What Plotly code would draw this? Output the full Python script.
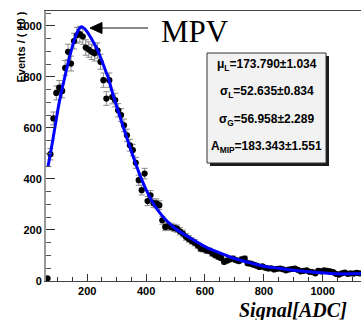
import plotly.graph_objects as go

# ---- data ----
bin_centers = list(range(65, 1130, 10))
counts = [
    10, 497, 637, 737, 758, 745, 835, 898, 852, 940,
    963, 967, 958, 915, 907, 898, 892, 903, 859, 787,
    715, 787, 721, 709, 669, 650, 610, 571, 532, 513,
    463, 395, 356, 421, 313, 336, 305, 304, 297, 238,
    212, 215, 212, 208, 205, 195, 186, 173, 165, 157,
    150, 140, 127, 125, 120, 118, 108, 101, 95, 90,
    75, 80, 85, 88, 82, 78, 85, 88, 70, 68,
    64, 60, 55, 57, 52, 49, 50, 45, 48, 49,
    46, 42, 45, 47, 49, 44, 38, 40, 42, 36,
    35, 30, 40, 38, 42, 40, 38, 35, 28, 25,
    30, 33, 28, 30, 29, 32, 30,
]
fit_x = [67, 75, 85, 95, 105, 115, 125, 135, 145, 155, 165, 175, 180, 190, 200,
         210, 220, 235, 250, 262, 272, 285, 300, 320, 340, 360, 380, 400, 425,
         450, 475, 500, 550, 600, 650, 700, 750, 800, 850, 900, 950, 1000, 1050,
         1100, 1130]
fit_y = [450, 500, 565, 635, 700, 755, 805, 855, 900, 940, 972, 992, 996, 990, 976,
         958, 938, 905, 862, 825, 795, 740, 685, 612, 542, 475, 412, 358, 303,
         262, 230, 205, 168, 135, 110, 88, 72, 58, 50, 42, 36, 32, 28,
         28, 29]
x_ticks = [200, 400, 600, 800, 1000]
y_ticks = [0, 200, 400, 600, 800, 1000]
stats_lines = [
    "μ<sub>L</sub>=173.790±1.034",
    "σ<sub>L</sub>=52.635±0.834",
    "σ<sub>G</sub>=56.958±2.289",
    "A<sub>MIP</sub>=183.343±1.551",
]

# ---- layout geometry (pixels) ----
W, H = 361, 320
L, R, T, B = 46, 361, 11, 281


def px_x(p):
    return (p - L) / (R - L)


def px_y(p):
    return (B - p) / (B - T)


fig = go.Figure()
fig.add_trace(go.Scatter(
    x=bin_centers, y=counts, mode="markers",
    marker=dict(color="black", size=6.2),
    error_y=dict(type="sqrt", color="#8a8a8a", thickness=1, width=3),
    cliponaxis=False, showlegend=False,
))
fig.add_trace(go.Scatter(
    x=fit_x, y=fit_y, mode="lines", line=dict(color="#0000ff", width=3, shape="spline"),
    showlegend=False,
))

tickfont = dict(family="Liberation Sans", size=11, color="black", weight="bold")
fig.update_layout(
    width=W, height=H,
    margin=dict(l=L, r=W - R, t=T, b=H - B, pad=0),
    paper_bgcolor="white", plot_bgcolor="white",
    xaxis=dict(range=[60, 1130], tickvals=x_ticks, ticks="inside", ticklen=7,
               tickcolor="#333", showgrid=False, zeroline=False, showline=True,
               linecolor="#444", linewidth=1, mirror=True, tickfont=tickfont,
               minor=dict(dtick=50, tick0=0, ticks="inside", ticklen=4, tickcolor="#333")),
    yaxis=dict(range=[0, 1058], tickvals=y_ticks, ticks="inside", ticklen=9,
               tickcolor="#333", showgrid=False, zeroline=False, showline=True,
               linecolor="#999", linewidth=2, tickfont=tickfont,
               minor=dict(dtick=50, tick0=0, ticks="inside", ticklen=5, tickcolor="#555")),
)

# y axis title
fig.add_annotation(text="Events / ( 10 )", xref="paper", yref="paper",
                   x=px_x(21), y=px_y(10), xanchor="center", yanchor="top",
                   textangle=-90, showarrow=False,
                   font=dict(family="Liberation Sans", size=11, color="black", weight="bold"))
# x axis title
fig.add_annotation(text="Signal[ADC]", xref="paper", yref="paper",
                   x=px_x(349), y=px_y(310), xanchor="right", yanchor="middle",
                   showarrow=False,
                   font=dict(family="Liberation Serif", size=20, color="black",
                             weight="bold", style="italic"))

# MPV arrow: line + filled triangular head
tip_x, tip_y, tail_x, head_len, head_half = 90, 28, 148, 12, 5.5
fig.add_shape(type="line", xref="paper", yref="paper",
              x0=px_x(tip_x + head_len - 1), x1=px_x(tail_x), y0=px_y(tip_y), y1=px_y(tip_y),
              line=dict(color="#111", width=1.2))
fig.add_shape(type="path", xref="paper", yref="paper",
              path=(f"M {px_x(tip_x)} {px_y(tip_y)} "
                    f"L {px_x(tip_x + head_len)} {px_y(tip_y - head_half)} "
                    f"L {px_x(tip_x + head_len)} {px_y(tip_y + head_half)} Z"),
              fillcolor="black", line=dict(color="black", width=1))
fig.add_annotation(text="MPV", xref="paper", yref="paper",
                   x=px_x(159), y=px_y(31), xanchor="left", yanchor="middle",
                   showarrow=False,
                   font=dict(family="Liberation Serif", size=31, color="black"))

# stats box with shadow
bx0, bx1, by0, by1 = 207, 326, 53, 163
fig.add_shape(type="rect", xref="paper", yref="paper",
              x0=px_x(bx0 + 3), x1=px_x(bx1 + 3), y0=px_y(by1 + 3), y1=px_y(by0 + 3),
              fillcolor="#1a1a1a", line=dict(width=0))
fig.add_shape(type="rect", xref="paper", yref="paper",
              x0=px_x(bx0), x1=px_x(bx1), y0=px_y(by1), y1=px_y(by0),
              fillcolor="#f2f2f2", line=dict(color="#333", width=1))
for i, s in enumerate(stats_lines):
    fig.add_annotation(text=s, xref="paper", yref="paper",
                       x=px_x((bx0 + bx1) / 2), y=px_y(65 + 27.3 * i),
                       xanchor="center", yanchor="middle", showarrow=False,
                       font=dict(family="Liberation Sans", size=12, color="black", weight="bold"))

fig.write_html("out.html")
